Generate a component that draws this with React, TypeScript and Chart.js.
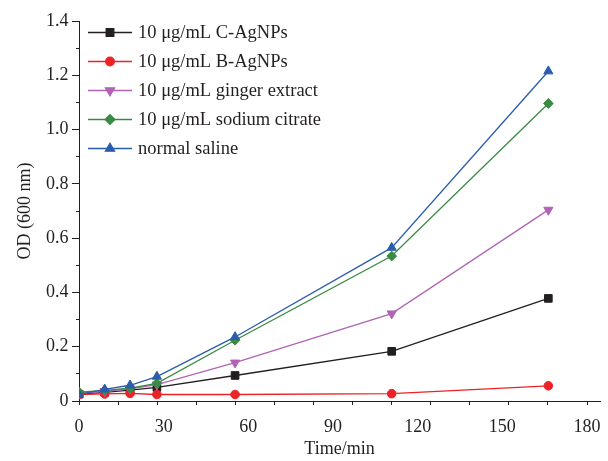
import React, { useEffect, useRef } from 'react';
import { Chart, registerables } from 'chart.js';
import { drawPoint } from 'chart.js/helpers';

Chart.register(...registerables);

// ---- data ----
const timesMin = [0, 9.1, 18.1, 27.6, 55.3, 110.8, 166.3];
const cAgNPs = [0.025, 0.032, 0.040, 0.050, 0.094, 0.183, 0.378];
const bAgNPs = [0.024, 0.026, 0.028, 0.024, 0.024, 0.027, 0.056];
const gingerExtract = [0.028, 0.036, 0.045, 0.060, 0.141, 0.322, 0.704];
const sodiumCitrate = [0.033, 0.039, 0.047, 0.065, 0.224, 0.534, 1.096];
const normalSaline = [0.024, 0.043, 0.058, 0.090, 0.236, 0.565, 1.215];

const seriesLabels = [
  '10 μg/mL C-AgNPs',
  '10 μg/mL B-AgNPs',
  '10 μg/mL ginger extract',
  '10 μg/mL sodium citrate',
  'normal saline',
];
const xTickLabels = [0, 30, 60, 90, 120, 150, 180];
const yTickLabels = [0, 0.2, 0.4, 0.6, 0.8, 1.0, 1.2, 1.4];

const FONT = "'Liberation Serif', 'Times New Roman', serif";
const TEXT = '#231f20';

const seriesValues = [cAgNPs, bAgNPs, gingerExtract, sodiumCitrate, normalSaline];
const seriesColors = ['#231f20', '#ec2227', '#b163b6', '#3a8a43', '#2b5dab'];
const seriesStyles = ['rect', 'circle', 'triangle', 'rectRot', 'triangle'];
const seriesRotation = [0, 0, 180, 0, 0];
const seriesRadius = [5.4, 4.3, 5.3, 4.9, 5.3];

const X_MAX = 184.6;

const legendPlugin = {
  id: 'lineMarkerLegend',
  afterDraw(chart: any) {
    const ctx = chart.ctx;
    ctx.save();
    chart.data.datasets.forEach((ds: any, i: number) => {
      const y = 32.5 + i * 29;
      ctx.strokeStyle = ds.borderColor;
      ctx.lineWidth = 1.3;
      ctx.beginPath();
      ctx.moveTo(88, y);
      ctx.lineTo(132, y);
      ctx.stroke();
      ctx.fillStyle = ds.borderColor;
      drawPoint(ctx, {
        pointStyle: ds.pointStyle,
        rotation: ds.pointRotation,
        radius: ds.pointRadius,
        borderWidth: 1,
      } as any, 110, y);
      ctx.fillStyle = TEXT;
      ctx.font = `18.5px ${FONT}`;
      ctx.textAlign = 'left';
      ctx.textBaseline = 'middle';
      ctx.fillText(ds.label, 138, y + 1);
    });
    ctx.restore();
  },
};

export default function App() {
  const canvasRef = useRef<HTMLCanvasElement | null>(null);

  useEffect(() => {
    if (!canvasRef.current) return;
    const datasets = seriesLabels.map((label, i) => ({
      label,
      data: timesMin.map((t, k) => ({ x: t, y: seriesValues[i][k] })),
      borderColor: seriesColors[i],
      backgroundColor: seriesColors[i],
      pointBackgroundColor: seriesColors[i],
      pointBorderColor: seriesColors[i],
      pointStyle: seriesStyles[i],
      pointRotation: seriesRotation[i],
      pointRadius: seriesRadius[i],
      pointBorderWidth: 1,
      borderWidth: 1.3,
      tension: 0,
      order: seriesLabels.length - i,
    }));

    const chart = new Chart(canvasRef.current, {
      type: 'line',
      data: { datasets },
      plugins: [legendPlugin],
      options: {
        animation: false,
        responsive: false,
        devicePixelRatio: 1,
        layout: { padding: { left: 0, right: 8, top: 21, bottom: 0 } },
        plugins: { legend: { display: false }, tooltip: { enabled: false } },
        scales: {
          x: {
            type: 'linear',
            position: 'bottom',
            min: 0,
            max: X_MAX,
            grid: { drawOnChartArea: false, tickLength: 4, color: TEXT, tickColor: TEXT },
            border: { display: true, color: TEXT, width: 1 },
            ticks: { display: false, stepSize: 180 / 13, includeBounds: false },
          },
          xl: {
            type: 'linear',
            position: 'bottom',
            axis: 'x',
            min: 0,
            max: X_MAX,
            grid: { display: false },
            border: { display: false },
            afterBuildTicks: (s: any) => {
              s.ticks = xTickLabels.map((v) => ({ value: v }));
            },
            afterFit: (s: any) => {
              s.height = 56;
            },
            ticks: {
              autoSkip: false,
              maxRotation: 0,
              padding: 3,
              color: TEXT,
              font: { family: FONT, size: 18 },
              callback: (v: any) => String(v),
            },
            title: {
              display: true,
              text: 'Time/min',
              color: TEXT,
              font: { family: FONT, size: 18 },
              padding: { top: 0, bottom: 0.5 },
            },
          },
          y: {
            type: 'linear',
            position: 'left',
            min: 0,
            max: 1.4,
            grid: { drawOnChartArea: false, tickLength: 3, color: TEXT, tickColor: TEXT },
            border: { display: true, color: TEXT, width: 1 },
            ticks: { display: false, stepSize: 0.1, includeBounds: false },
          },
          yl: {
            type: 'linear',
            position: 'left',
            axis: 'y',
            min: 0,
            max: 1.4,
            grid: { drawOnChartArea: false, tickLength: 4, color: TEXT, tickColor: TEXT },
            border: { display: false },
            afterBuildTicks: (s: any) => {
              s.ticks = yTickLabels.map((v) => ({ value: v }));
            },
            afterFit: (s: any) => {
              s.width = 76;
            },
            ticks: {
              autoSkip: false,
              padding: 3.5,
              color: TEXT,
              font: { family: FONT, size: 18 },
              callback: (v: any) => (Number(v) === 0 ? '0' : Number(v).toFixed(1)),
            },
            title: {
              display: true,
              text: 'OD (600 nm)',
              color: TEXT,
              font: { family: FONT, size: 18 },
              padding: { top: 14.5, bottom: 0 },
            },
          },
        },
      } as any,
    });
    return () => chart.destroy();
  }, []);

  return (
    <div style={{ position: 'fixed', left: 0, top: 0, width: 608, height: 461, background: '#fff' }}>
      <canvas ref={canvasRef} width={608} height={461} />
    </div>
  );
}
